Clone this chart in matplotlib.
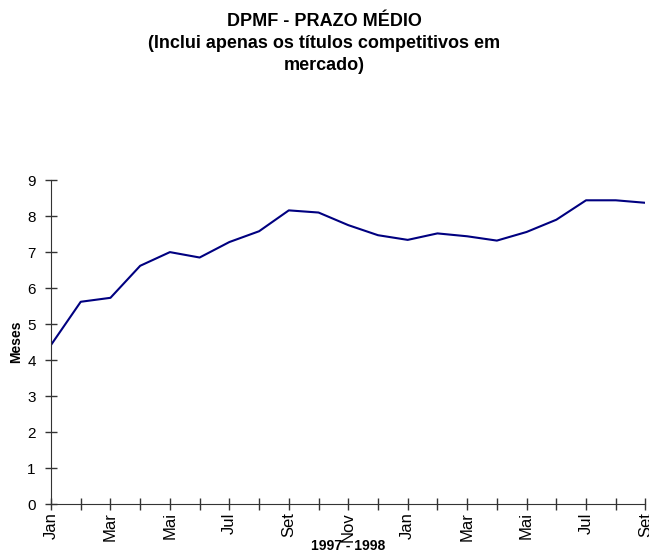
import matplotlib.pyplot as plt

meses = ["Jan", "Fev", "Mar", "Abr", "Mai", "Jun", "Jul", "Ago", "Set", "Out", "Nov", "Dez",
         "Jan", "Fev", "Mar", "Abr", "Mai", "Jun", "Jul", "Ago", "Set"]
prazo = [4.42, 5.62, 5.73, 6.62, 7.0, 6.85, 7.28, 7.58, 8.16, 8.10, 7.75, 7.47,
         7.34, 7.52, 7.44, 7.32, 7.56, 7.90, 8.44, 8.44, 8.37]

plt.rcParams['font.family'] = ['Liberation Sans', 'DejaVu Sans']

fig = plt.figure(figsize=(6.49, 5.56), dpi=100)
ax = fig.add_axes([0.0786, 0.0935, 0.916, 0.5825])

x = list(range(len(prazo)))
ax.plot(x, prazo, color='#000080', linewidth=1.5)

ax.set_xlim(0, len(prazo) - 1)
ax.set_ylim(0, 9)
ax.set_yticks(range(10))
ax.set_xticks(x)
ax.set_xticklabels([m if i % 2 == 0 else "" for i, m in enumerate(meses)], rotation=90)

for s in ['top', 'right']:
    ax.spines[s].set_visible(False)
for s in ['left', 'bottom']:
    ax.spines[s].set_color('#333333')
ax.tick_params(axis='both', direction='inout', length=8, width=1, color='#333333')
ax.tick_params(axis='y', pad=7, labelsize=11)
ax.tick_params(axis='x', pad=2, labelsize=12)

ax.set_ylabel("Meses", fontsize=10, fontweight='bold', labelpad=3)
ax.set_xlabel("1997 - 1998", fontsize=10, fontweight='bold', labelpad=-2)

fig.text(0.5, 0.977, "DPMF - PRAZO MÉDIO\n(Inclui apenas os títulos competitivos em\nmercado)",
         ha='center', va='top', fontsize=13, fontweight='bold', linespacing=1.38)

fig.savefig("out.png", dpi=100)
